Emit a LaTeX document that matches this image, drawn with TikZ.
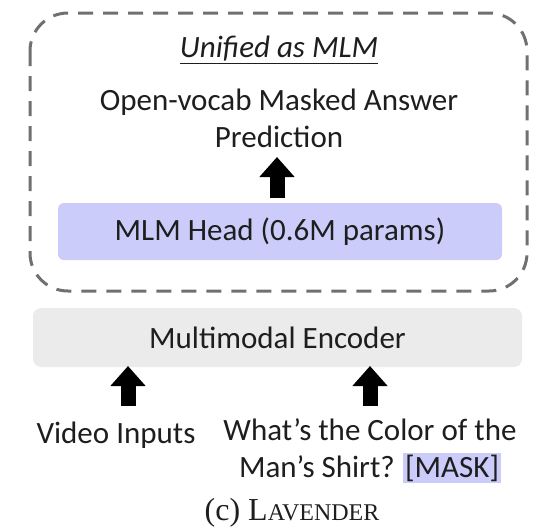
\documentclass[tikz,border=0pt]{standalone}
\usepackage{fontspec}
\setmainfont{Carlito}
\newfontfamily\capfont{Liberation Serif}
\usetikzlibrary{arrows.meta}
\definecolor{lav}{RGB}{204,204,250}
\definecolor{encgray}{RGB}{235,235,235}
\definecolor{dashgray}{RGB}{112,112,112}
\definecolor{ink}{RGB}{30,30,30}
\tikzset{
  txt/.style={font=\fontsize{31}{37}\selectfont, text=ink, inner sep=0pt, align=center},
  headbox/.style={fill=lav, rounded corners=6pt, minimum width=444pt, minimum height=57pt, txt},
  encbox/.style={fill=encgray, rounded corners=8pt, minimum width=489pt, minimum height=59pt, txt},
  framebox/.style={draw=dashgray, line width=3pt, dash pattern=on 15pt off 10pt, rounded corners=38pt},
  blockarrow/.style={line width=15pt, black, -{Triangle[width=34pt,length=20pt]}},
}
\begin{document}
\begin{tikzpicture}[x=1pt,y=-1pt]
  \useasboundingbox (0,0) rectangle (543,531);
  % dashed frame around the MLM part
  \draw[framebox] (30,13) rectangle (527,291);
  \node[txt] (title) at (279,50) {\itshape\underline{Unified as MLM}};
  \node[txt] (pred) at (279,118) {Open-vocab Masked Answer\\Prediction};
  \node[headbox] (head) at (280,231.5) {MLM Head (0.6M params)};
  \coordinate (h1) at (277,198);
  \coordinate (h2) at (277,157);
  \draw[blockarrow] (h1) -- (h2);
  % encoder and its inputs
  \node[encbox] (enc) at (277.5,337.5) {Multimodal Encoder};
  \node[txt] (video) at (116,435) {Video Inputs};
  \node[txt, anchor=north] (question) at (370,418) {What’s the Color of the\\Man’s Shirt?\hspace{-1pt} {\setlength{\fboxsep}{2pt}\colorbox{lav}{[MASK]}}};
  \coordinate (v1) at (128,406);
  \coordinate (v2) at (128,366);
  \coordinate (q1) at (370,406);
  \coordinate (q2) at (370,366);
  \draw[blockarrow] (v1) -- (v2);
  \draw[blockarrow] (q1) -- (q2);
  \node[inner sep=0pt, text=ink] (cap) at (292,513) {\capfont\fontsize{32}{37}\selectfont (c) L{\fontsize{24}{29}\selectfont AVENDER}};
\end{tikzpicture}
\end{document}
